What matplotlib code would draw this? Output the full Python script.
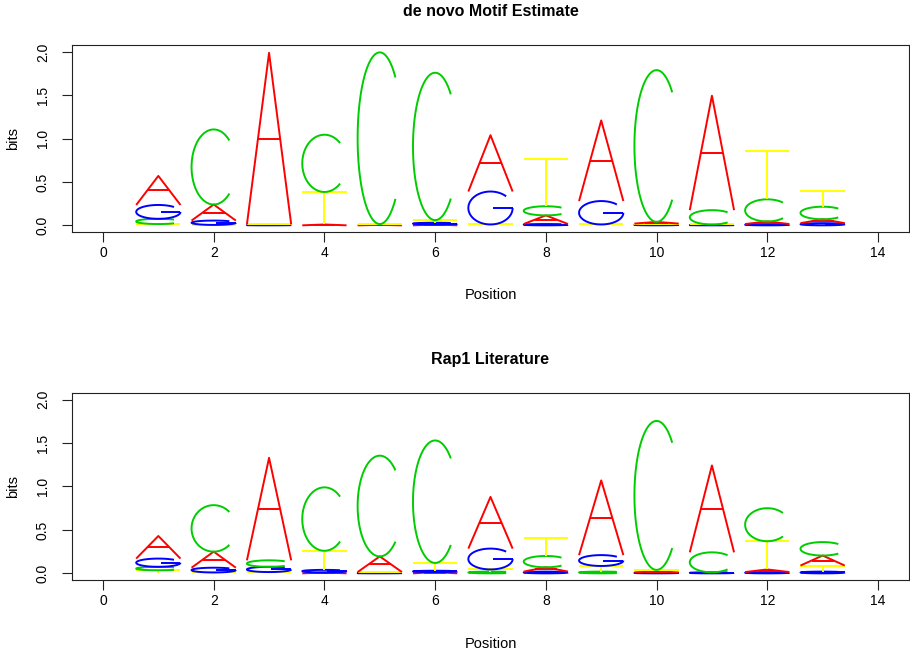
import numpy as np
import matplotlib
matplotlib.use('Agg')
import matplotlib.pyplot as plt

plt.rcParams['font.family'] = ['Liberation Sans', 'DejaVu Sans']

# Letter heights (bits) at positions 1..13
posiciones = np.arange(1, 14)
letras = ['A', 'C', 'G', 'T']
colores = {'A': '#ff0000', 'C': '#00cd00', 'G': '#0000ff', 'T': '#ffff00'}

# de novo Motif Estimate
denovo_A = [0.335, 0.185, 1.98, 0.01, 0.005, 0.01, 0.65, 0.10, 0.93, 0.02, 1.32, 0.03, 0.045]
denovo_C = [0.06, 0.866, 0.0, 0.66, 1.98, 1.70, 0.0, 0.105, 0.0, 1.75, 0.165, 0.255, 0.145]
denovo_G = [0.16, 0.05, 0.005, 0.0, 0.0, 0.02, 0.38, 0.015, 0.27, 0.01, 0.005, 0.015, 0.025]
denovo_T = [0.015, 0.005, 0.005, 0.375, 0.01, 0.03, 0.01, 0.545, 0.01, 0.01, 0.005, 0.56, 0.18]

# Rap1 Literature
lit_A = [0.26, 0.185, 1.18, 0.01, 0.18, 0.015, 0.595, 0.05, 0.86, 0.015, 1.0, 0.03, 0.115]
lit_C = [0.04, 0.535, 0.075, 0.73, 1.16, 1.41, 0.02, 0.13, 0.02, 1.715, 0.23, 0.38, 0.155]
lit_G = [0.095, 0.055, 0.06, 0.03, 0.005, 0.015, 0.24, 0.02, 0.125, 0.01, 0.012, 0.015, 0.02]
lit_T = [0.035, 0.01, 0.015, 0.22, 0.01, 0.09, 0.025, 0.21, 0.065, 0.015, 0.0, 0.325, 0.07]

paneles = [
    ("de novo Motif Estimate", {'A': denovo_A, 'C': denovo_C, 'G': denovo_G, 'T': denovo_T}),
    ("Rap1 Literature", {'A': lit_A, 'C': lit_C, 'G': lit_G, 'T': lit_T}),
]


def glifo(letra):
    # strokes of each letter in a unit box
    if letra == 'A':
        return [[(0, 0), (0.5, 1), (1, 0)], [(0.25, 0.5), (0.75, 0.5)]]
    if letra == 'T':
        return [[(0, 1), (1, 1)], [(0.5, 1), (0.5, 0)]]
    if letra == 'C':
        t = np.radians(np.linspace(45, 315, 80))
        return [list(zip(0.5 + 0.5 * np.cos(t), 0.5 + 0.5 * np.sin(t)))]
    t = np.radians(np.linspace(45, 360, 80))
    arco = list(zip(0.5 + 0.5 * np.cos(t), 0.5 + 0.5 * np.sin(t)))
    return [arco, [(1, 0.5), (0.55, 0.5)]]


def dibujar_letra(ax, letra, x, y0, alto, ancho=0.8):
    for trazo in glifo(letra):
        xs = [x - ancho / 2 + u * ancho for u, v in trazo]
        ys = [y0 + v * alto for u, v in trazo]
        ax.plot(xs, ys, color=colores[letra], lw=1.4, solid_capstyle='butt')


fig = plt.figure(figsize=(9.10, 6.51), dpi=100)
cajas = [[0.0791, 0.6432, 0.9198, 0.2877], [0.0791, 0.1086, 0.9198, 0.2882]]

for (titulo, datos), caja in zip(paneles, cajas):
    ax = fig.add_axes(caja)
    for i, p in enumerate(posiciones):
        alturas = sorted(((datos[l][i], l) for l in letras))
        base = 0.0
        for h, l in alturas:
            if h > 0:
                dibujar_letra(ax, l, p, base, h)
            base += h
    ax.set_xlim(-0.56, 14.56)
    ax.set_ylim(-0.08, 2.08)
    ax.set_xticks(np.arange(0, 15, 2))
    ax.set_yticks([0, 0.5, 1.0, 1.5, 2.0])
    ax.set_yticklabels(['0.0', '0.5', '1.0', '1.5', '2.0'], rotation=90, va='center')
    ax.tick_params(axis='both', length=7, width=0.8, labelsize=10, color='#222222')
    ax.tick_params(axis='y', pad=9)
    ax.tick_params(axis='x', pad=3)
    for s in ax.spines.values():
        s.set_linewidth(0.8)
        s.set_color('#222222')
    ax.set_title(titulo, fontsize=11.5, fontweight='bold', pad=21)
    ax.set_xlabel("Position", fontsize=10.5, va='center')
    ax.xaxis.set_label_coords(0.5, -0.337)
    ax.set_ylabel("bits", fontsize=10.5, va='center')
    ax.yaxis.set_label_coords(-0.07, 0.5)

fig.savefig('out.png', dpi=100)
